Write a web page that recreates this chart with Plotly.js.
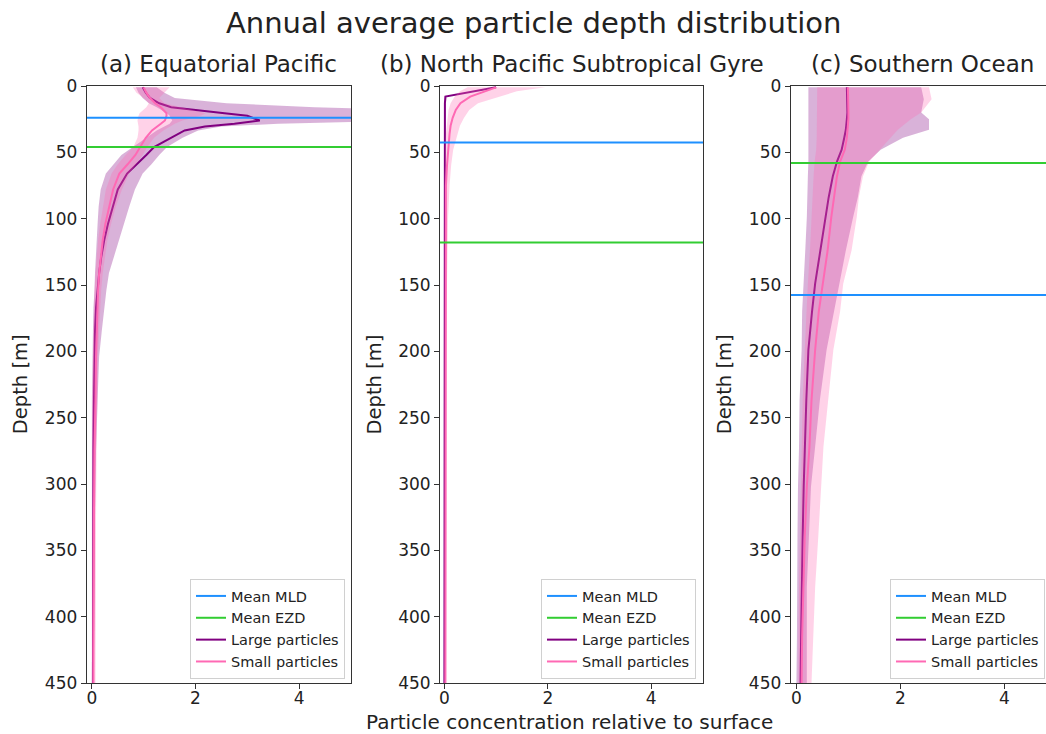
<!DOCTYPE html>
<html><head><meta charset="utf-8">
<script src="https://cdn.plot.ly/plotly-3.0.1.min.js"></script>
<style>html,body{margin:0;padding:0;background:#fff;overflow:hidden}</style>
</head><body><div id="chart" style="width:1046px;height:734px"></div>
<script>
// ---------- Data ----------
const panelTitles = ["(a) Equatorial Pacific", "(b) North Pacific Subtropical Gyre", "(c) Southern Ocean"];
const legendNames = ["Mean MLD", "Mean EZD", "Large particles", "Small particles"];
const xTicks = [0, 2, 4];
const yTicks = [0, 50, 100, 150, 200, 250, 300, 350, 400, 450];

// (a) Equatorial Pacific
const depthA   = [1, 5, 9, 13, 16, 18, 20.5, 22.5, 26, 28.5, 30.5, 33.5, 39, 46, 52, 59, 66, 78, 91, 104, 116, 129, 141, 154, 167, 185, 204, 237, 275, 325, 375, 425, 450];
const largeA   = [0.98, 1.04, 1.12, 1.3, 1.53, 2.05, 2.56, 3.0, 3.24, 2.75, 2.18, 1.79, 1.53, 1.2, 1.05, 0.86, 0.68, 0.5, 0.4, 0.31, 0.24, 0.18, 0.14, 0.11, 0.08, 0.06, 0.05, 0.04, 0.03, 0.03, 0.02, 0.02, 0.02];
const largeALo = [0.85, 0.9, 0.98, 1.1, 1.25, 1.35, 1.45, 1.5, 1.55, 1.5, 1.4, 1.25, 1.05, 0.78, 0.57, 0.42, 0.27, 0.17, 0.13, 0.11, 0.09, 0.08, 0.06, 0.05, 0.03, 0.02, 0.01, 0, 0, 0, 0, 0, 0];
const largeAHi = [1.25, 1.4, 1.6, 2.6, 4.3, 6.0, 6.5, 6.5, 6.2, 3.6, 2.5, 2.05, 1.75, 1.45, 1.3, 1.15, 0.98, 0.83, 0.72, 0.62, 0.53, 0.42, 0.33, 0.28, 0.24, 0.19, 0.14, 0.11, 0.08, 0.06, 0.05, 0.04, 0.04];
const smallA   = [1.0, 1.05, 1.12, 1.22, 1.33, 1.38, 1.44, 1.44, 1.41, 1.33, 1.26, 1.16, 1.04, 0.93, 0.84, 0.69, 0.53, 0.41, 0.33, 0.26, 0.21, 0.17, 0.14, 0.12, 0.11, 0.09, 0.08, 0.07, 0.05, 0.04, 0.03, 0.03, 0.03];
const smallALo = [0.79, 0.86, 1.0, 1.1, 1.05, 1.0, 0.92, 0.9, 0.88, 0.89, 0.9, 0.9, 0.88, 0.8, 0.65, 0.5, 0.38, 0.27, 0.21, 0.16, 0.12, 0.09, 0.07, 0.05, 0.04, 0.03, 0.02, 0.01, 0.01, 0, 0, 0, 0];
const smallAHi = [1.5, 1.4, 1.3, 1.4, 1.7, 1.95, 2.2, 2.1, 1.75, 1.6, 1.5, 1.38, 1.2, 1.07, 0.98, 0.85, 0.72, 0.58, 0.46, 0.37, 0.3, 0.25, 0.21, 0.18, 0.16, 0.14, 0.12, 0.1, 0.09, 0.08, 0.07, 0.07, 0.07];
const mldA = 24, ezdA = 46;

// (b) North Pacific Subtropical Gyre
const depthB   = [1, 4, 8, 13, 18, 24, 30, 36, 48, 60, 75, 100, 125, 150, 200, 250, 300, 350, 400, 450];
const largeB   = [1.0, 0.55, 0.02, 0.01, 0.01, 0.01, 0.01, 0.01, 0, 0, 0, 0, 0, 0, 0, 0, 0, 0, 0, 0];
const largeBLo = [0.97, 0.52, 0, 0, 0, 0, 0, 0, 0, 0, 0, 0, 0, 0, 0, 0, 0, 0, 0, 0];
const largeBHi = [1.03, 0.58, 0.04, 0.03, 0.02, 0.02, 0.02, 0.02, 0.01, 0.01, 0.01, 0.01, 0.01, 0.01, 0.01, 0.01, 0.01, 0.01, 0.01, 0.01];
const smallB   = [1.0, 0.8, 0.5, 0.31, 0.22, 0.16, 0.12, 0.1, 0.07, 0.05, 0.03, 0.03, 0.02, 0.02, 0.02, 0.02, 0.02, 0.02, 0.02, 0.02];
const smallBLo = [0.45, 0.3, 0.2, 0.12, 0.08, 0.06, 0.04, 0.03, 0.02, 0.01, 0, 0, 0, 0, 0, 0, 0, 0, 0, 0];
const smallBHi = [1.95, 1.4, 1.05, 0.65, 0.48, 0.38, 0.3, 0.25, 0.17, 0.13, 0.1, 0.07, 0.06, 0.05, 0.04, 0.03, 0.03, 0.03, 0.03, 0.03];
const mldB = 42.5, ezdB = 118;

// (c) Southern Ocean
const depthC   = [1, 10, 20, 25, 33, 39, 48, 57, 68, 84, 99, 124, 149, 170, 199, 237, 272, 302, 340, 378, 415, 450];
const largeC   = [0.97, 0.98, 0.98, 0.97, 0.95, 0.92, 0.87, 0.78, 0.7, 0.62, 0.56, 0.45, 0.36, 0.3, 0.23, 0.19, 0.16, 0.14, 0.12, 0.1, 0.09, 0.08];
const largeCLo = [0.23, 0.23, 0.23, 0.23, 0.23, 0.23, 0.24, 0.23, 0.22, 0.21, 0.2, 0.17, 0.13, 0.11, 0.1, 0.06, 0.05, 0.03, 0.02, 0.02, 0.01, 0];
const largeCHi = [2.4, 2.45, 2.4, 2.55, 2.55, 2.05, 1.62, 1.38, 1.25, 1.18, 1.09, 0.95, 0.82, 0.72, 0.58, 0.45, 0.36, 0.28, 0.24, 0.2, 0.2, 0.2];
const smallC   = [0.99, 1.0, 1.0, 1.0, 0.99, 0.97, 0.93, 0.84, 0.78, 0.72, 0.67, 0.6, 0.5, 0.43, 0.36, 0.29, 0.25, 0.2, 0.16, 0.13, 0.11, 0.1];
const smallCLo = [0.4, 0.4, 0.4, 0.4, 0.4, 0.39, 0.38, 0.35, 0.33, 0.31, 0.3, 0.26, 0.22, 0.19, 0.16, 0.12, 0.1, 0.08, 0.07, 0.05, 0.04, 0.04];
const smallCHi = [2.55, 2.6, 2.4, 2.2, 1.95, 1.8, 1.6, 1.4, 1.28, 1.2, 1.16, 1.06, 0.9, 0.84, 0.71, 0.61, 0.52, 0.48, 0.42, 0.36, 0.32, 0.29];
const mldC = 157.5, ezdC = 58;

// ---------- Styling ----------
const FONT = "DejaVu Sans, Liberation Sans, sans-serif";
const C_LARGE = "#800080", C_SMALL = "#ff69b4", C_MLD = "#1e90ff", C_EZD = "#32cd32";
const F_LARGE = "rgba(128,0,128,0.3)", F_SMALL = "rgba(255,105,180,0.3)";
const W = 1046, H = 734;
const axTop = 86, axBot = 683;
const xDomPx = [[86.7, 351], [440, 703], [790.7, 1046]];
const xRanges = [[-0.1, 5], [-0.085, 5], [-0.11, 4.8]];
const legendRight = [345, 696, 1045];
const legendBottom = 679;

const panels = [
  {depth: depthA, large: largeA, lLo: largeALo, lHi: largeAHi, small: smallA, sLo: smallALo, sHi: smallAHi, mld: mldA, ezd: ezdA},
  {depth: depthB, large: largeB, lLo: largeBLo, lHi: largeBHi, small: smallB, sLo: smallBLo, sHi: smallBHi, mld: mldB, ezd: ezdB},
  {depth: depthC, large: largeC, lLo: largeCLo, lHi: largeCHi, small: smallC, sLo: smallCLo, sHi: smallCHi, mld: mldC, ezd: ezdC}
];

function band(lo, hi, depth, color, xa, ya) {
  return {x: lo.concat(hi.slice().reverse()), y: depth.concat(depth.slice().reverse()),
    type: "scatter", mode: "lines", fill: "toself", fillcolor: color, line: {width: 0},
    hoverinfo: "skip", showlegend: false, xaxis: xa, yaxis: ya};
}

const traces = [];
const layout = {
  width: W, height: H, margin: {l: 0, r: 0, t: 0, b: 0},
  paper_bgcolor: "#fff", plot_bgcolor: "#fff",
  font: {family: FONT, color: "#222"},
  annotations: [], showlegend: true
};

panels.forEach((p, i) => {
  const n = i === 0 ? "" : String(i + 1);
  const xa = "x" + n, ya = "y" + n;
  const lg = "legend" + n;
  traces.push(band(p.lLo, p.lHi, p.depth, F_LARGE, xa, ya));
  traces.push({x: p.large, y: p.depth, type: "scatter", mode: "lines", line: {color: C_LARGE, width: 2},
    name: legendNames[2], legend: lg, legendrank: 3, xaxis: xa, yaxis: ya, showlegend: true});
  traces.push(band(p.sLo, p.sHi, p.depth, F_SMALL, xa, ya));
  traces.push({x: p.small, y: p.depth, type: "scatter", mode: "lines", line: {color: C_SMALL, width: 2},
    name: legendNames[3], legend: lg, legendrank: 4, xaxis: xa, yaxis: ya, showlegend: true});
  traces.push({x: xRanges[i], y: [p.mld, p.mld], type: "scatter", mode: "lines", line: {color: C_MLD, width: 2},
    name: legendNames[0], legend: lg, legendrank: 1, xaxis: xa, yaxis: ya, showlegend: true});
  traces.push({x: xRanges[i], y: [p.ezd, p.ezd], type: "scatter", mode: "lines", line: {color: C_EZD, width: 2},
    name: legendNames[1], legend: lg, legendrank: 2, xaxis: xa, yaxis: ya, showlegend: true});

  const dom = [xDomPx[i][0] / W, Math.min(1, xDomPx[i][1] / W)];
  layout["xaxis" + n] = {domain: dom, range: xRanges[i], anchor: ya, tickvals: xTicks, ticktext: xTicks.map(String),
    showgrid: false, zeroline: false, showline: true, linecolor: "#333", linewidth: 1, mirror: true,
    ticks: "outside", ticklen: 5, tickcolor: "#333", ticklabelstandoff: -5,
    tickfont: {family: FONT, size: 17, color: "#222"}};
  layout["yaxis" + n] = {domain: [(H - axBot) / H, (H - axTop) / H], range: [450, 0], anchor: xa,
    tickvals: yTicks, ticktext: yTicks.map(String),
    showgrid: false, zeroline: false, showline: true, linecolor: "#333", linewidth: 1, mirror: i < 2,
    ticks: "outside", ticklen: 5, tickcolor: "#333", tickfont: {family: FONT, size: 17, color: "#222"}};
  layout[lg] = {x: legendRight[i] / W, y: (H - legendBottom) / H, xanchor: "right", yanchor: "bottom",
    bgcolor: "rgba(255,255,255,0.85)", bordercolor: "#d0d0d0", borderwidth: 1,
    font: {family: FONT, size: 14.5, color: "#222"}, traceorder: "normal", itemwidth: 30};

  const cx = (xDomPx[i][0] + (i === 2 ? 1055 : xDomPx[i][1])) / 2;
  layout.annotations.push({text: panelTitles[i], xref: "paper", yref: "paper", x: cx / W, y: 1 - 64 / H,
    xanchor: "center", yanchor: "middle", showarrow: false, font: {family: FONT, size: 23, color: "#222"}});
  layout.annotations.push({text: "Depth [m]", xref: "paper", yref: "paper", x: (xDomPx[i][0] - 66) / W,
    y: 1 - ((axTop + axBot) / 2) / H, xanchor: "center", yanchor: "middle", textangle: -90, showarrow: false,
    font: {family: FONT, size: 19.5, color: "#222"}});
});

layout.annotations.push({text: "Annual average particle depth distribution", xref: "paper", yref: "paper",
  x: 533 / W, y: 1 - 23 / H, xanchor: "center", yanchor: "middle", showarrow: false,
  font: {family: FONT, size: 29, color: "#222"}});
layout.annotations.push({text: "Particle concentration relative to surface", xref: "paper", yref: "paper",
  x: 569 / W, y: 1 - 722 / H, xanchor: "center", yanchor: "middle", showarrow: false,
  font: {family: FONT, size: 20, color: "#222"}});

Plotly.newPlot("chart", traces, layout, {displayModeBar: false, staticPlot: true});
</script>
</body></html>
